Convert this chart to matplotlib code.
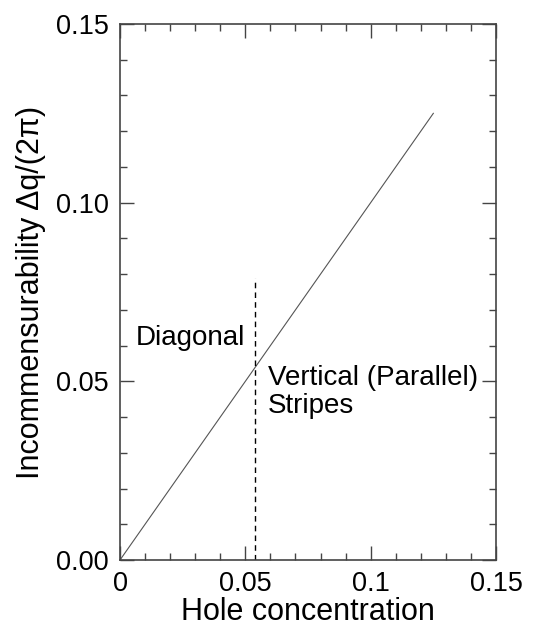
import matplotlib
matplotlib.use("Agg")
import matplotlib.pyplot as plt
from matplotlib.ticker import MultipleLocator

plt.rcParams['font.family'] = ['Liberation Sans', 'DejaVu Sans']

# data
line_x = [0.0, 0.125]
line_y = [0.0, 0.125]
boundary_x = [0.054, 0.054]
boundary_y = [0.0, 0.079]
xticks = [0, 0.05, 0.1, 0.15]
xticklabels = ['0', '0.05', '0.1', '0.15']
yticks = [0.0, 0.05, 0.10, 0.15]
yticklabels = ['0.00', '0.05', '0.10', '0.15']

fig = plt.figure(figsize=(5.33, 6.27), dpi=100)
ax = fig.add_axes([120/533, 1-560/627, 376/533, 536/627])

ax.plot(line_x, line_y, color='#555555', lw=0.8)
ax.plot(boundary_x, boundary_y, color='black', lw=1.0, ls=(0, (4, 3)))

ax.set_xlim(0, 0.15)
ax.set_ylim(0, 0.15)
ax.set_xticks(xticks)
ax.set_xticklabels(xticklabels)
ax.set_yticks(yticks)
ax.set_yticklabels(yticklabels)
ax.xaxis.set_minor_locator(MultipleLocator(0.01))
ax.yaxis.set_minor_locator(MultipleLocator(0.01))
ax.tick_params(which='both', direction='in', top=True, right=True, labelsize=19.5, color='#444444')
ax.tick_params(which='major', length=10, width=1)
ax.tick_params(which='minor', length=5, width=1)
ax.tick_params(axis='y', which='major', pad=8)
ax.tick_params(axis='x', which='major', pad=8)
for s in ax.spines.values():
    s.set_linewidth(1.2)
    s.set_color('#444444')

ax.set_xlabel('Hole concentration', fontsize=22, labelpad=0)
ax.set_ylabel('Incommensurability \u0394q/(2\u03c0)', fontsize=22, labelpad=7)

ax.text(0.0062, 0.0602, 'Diagonal', fontsize=20, va='baseline', ha='left')
ax.text(0.0590, 0.0490, 'Vertical (Parallel)', fontsize=20, va='baseline', ha='left')
ax.text(0.0590, 0.0411, 'Stripes', fontsize=20, va='baseline', ha='left')

fig.savefig('out.png', dpi=100)
